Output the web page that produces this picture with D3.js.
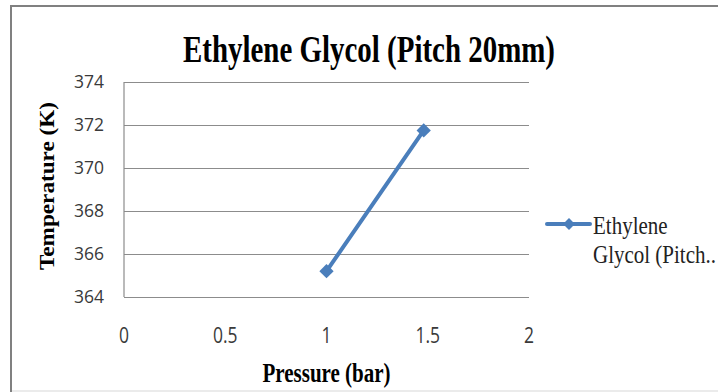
<!DOCTYPE html>
<html>
<head>
<meta charset="utf-8">
<script src="https://cdn.jsdelivr.net/npm/d3@7"></script>
<style>
  html, body { margin: 0; padding: 0; background: #fff; }
  svg { display: block; }
</style>
</head>
<body>
<svg id="chart" width="718" height="392"></svg>
<script>
// Chart data
const title = "Ethylene Glycol (Pitch 20mm)";
const seriesName = ["Ethylene", "Glycol (Pitch.."];
const pressure = [1.0, 1.48];
const temperature = [365.2, 371.75];
const xTicks = [0, 0.5, 1, 1.5, 2];
const yTicks = [364, 366, 368, 370, 372, 374];
const xLabel = "Pressure (bar)";
const yLabel = "Temperature (K)";

const svg = d3.select("#chart");
const W = 718, H = 392;
const plot = { left: 124, right: 529, top: 82, bottom: 297 };
const blue = "#4a7ebb";
const serif = "'Liberation Serif', 'DejaVu Serif', serif";
const sans = "'Open Sans', 'Liberation Sans', sans-serif";

// Outer chart frame
svg.append("line").attr("x1", 11).attr("x2", 11).attr("y1", 6).attr("y2", H)
  .attr("stroke", "#808080").attr("stroke-width", 2);
svg.append("line").attr("x1", 10).attr("x2", W).attr("y1", 6).attr("y2", 6)
  .attr("stroke", "#808080").attr("stroke-width", 2);
svg.append("line").attr("x1", 12).attr("x2", W).attr("y1", 391).attr("y2", 391)
  .attr("stroke", "#e4e4e4").attr("stroke-width", 1.5);

const x = d3.scaleLinear().domain([0, 2]).range([plot.left, plot.right]);
const y = d3.scaleLinear().domain([364, 374]).range([plot.bottom, plot.top]);

// Horizontal gridlines
svg.append("g")
  .attr("transform", `translate(${plot.left},0)`)
  .call(d3.axisLeft(y).tickValues(yTicks).tickSize(-(plot.right - plot.left)).tickFormat(""))
  .call(g => g.select(".domain").remove())
  .call(g => g.selectAll("line").attr("stroke", "#8c8c8c").attr("stroke-width", 1.2));

// Vertical axis line
svg.append("line")
  .attr("x1", plot.left).attr("x2", plot.left)
  .attr("y1", plot.top).attr("y2", plot.bottom)
  .attr("stroke", "#8c8c8c").attr("stroke-width", 1.2);

// Y tick labels
svg.append("g")
  .attr("transform", `translate(${plot.left},0)`)
  .call(d3.axisLeft(y).tickValues(yTicks).tickSize(0).tickPadding(20))
  .call(g => g.select(".domain").remove())
  .call(g => g.selectAll("text")
    .attr("font-family", sans)
    .attr("font-size", 17.5).attr("fill", "#3a3a3a"));

// X tick labels (slightly tall glyphs)
svg.append("g").selectAll("text").data(xTicks).enter().append("text")
  .attr("transform", d => `translate(${x(d)},343) scale(1,1.22)`)
  .attr("text-anchor", "middle")
  .attr("font-family", sans)
  .attr("font-size", 17.5).attr("fill", "#3a3a3a")
  .text(d => d3.format("")(d));

// Title
svg.append("text")
  .attr("transform", "translate(369,62) scale(1,1.3)")
  .attr("text-anchor", "middle")
  .attr("font-family", serif)
  .attr("font-weight", "bold").attr("font-size", 29)
  .attr("textLength", 372).attr("lengthAdjust", "spacingAndGlyphs")
  .text(title);

// Axis titles
svg.append("text")
  .attr("transform", `translate(${(plot.left + plot.right) / 2},381.5) scale(1,1.3)`)
  .attr("text-anchor", "middle")
  .attr("font-family", serif)
  .attr("font-weight", "bold").attr("font-size", 21)
  .attr("textLength", 128).attr("lengthAdjust", "spacingAndGlyphs")
  .text(xLabel);

svg.append("text")
  .attr("transform", `translate(54,186) rotate(-90)`)
  .attr("text-anchor", "middle")
  .attr("font-family", serif)
  .attr("font-weight", "bold").attr("font-size", 20)
  .attr("textLength", 168).attr("lengthAdjust", "spacingAndGlyphs")
  .text(yLabel);

// Series line and markers
const pts = pressure.map((p, i) => [p, temperature[i]]);
svg.append("path")
  .datum(pts)
  .attr("fill", "none").attr("stroke", blue).attr("stroke-width", 4)
  .attr("stroke-linecap", "round")
  .attr("d", d3.line().x(d => x(d[0])).y(d => y(d[1])));

const diamond = d3.symbol().type(d3.symbolDiamond2).size(130);
svg.selectAll(".pt").data(pts).enter().append("path")
  .attr("class", "pt")
  .attr("transform", d => `translate(${x(d[0])},${y(d[1])})`)
  .attr("d", diamond)
  .attr("fill", blue);

// Legend
const lg = svg.append("g").attr("transform", "translate(547,224)");
lg.append("line").attr("x1", 0).attr("x2", 43).attr("y1", 0).attr("y2", 0)
  .attr("stroke", blue).attr("stroke-width", 4).attr("stroke-linecap", "round");
lg.append("path").attr("transform", "translate(22,0)")
  .attr("d", d3.symbol().type(d3.symbolDiamond2).size(90)).attr("fill", blue);
lg.selectAll("text").data(seriesName).enter().append("text")
  .attr("transform", (d, i) => `translate(46,${10 + i * 29}) scale(1,1.15)`)
  .attr("font-family", serif)
  .attr("font-size", 21).attr("fill", "#222")
  .text(d => d);
</script>
</body>
</html>
